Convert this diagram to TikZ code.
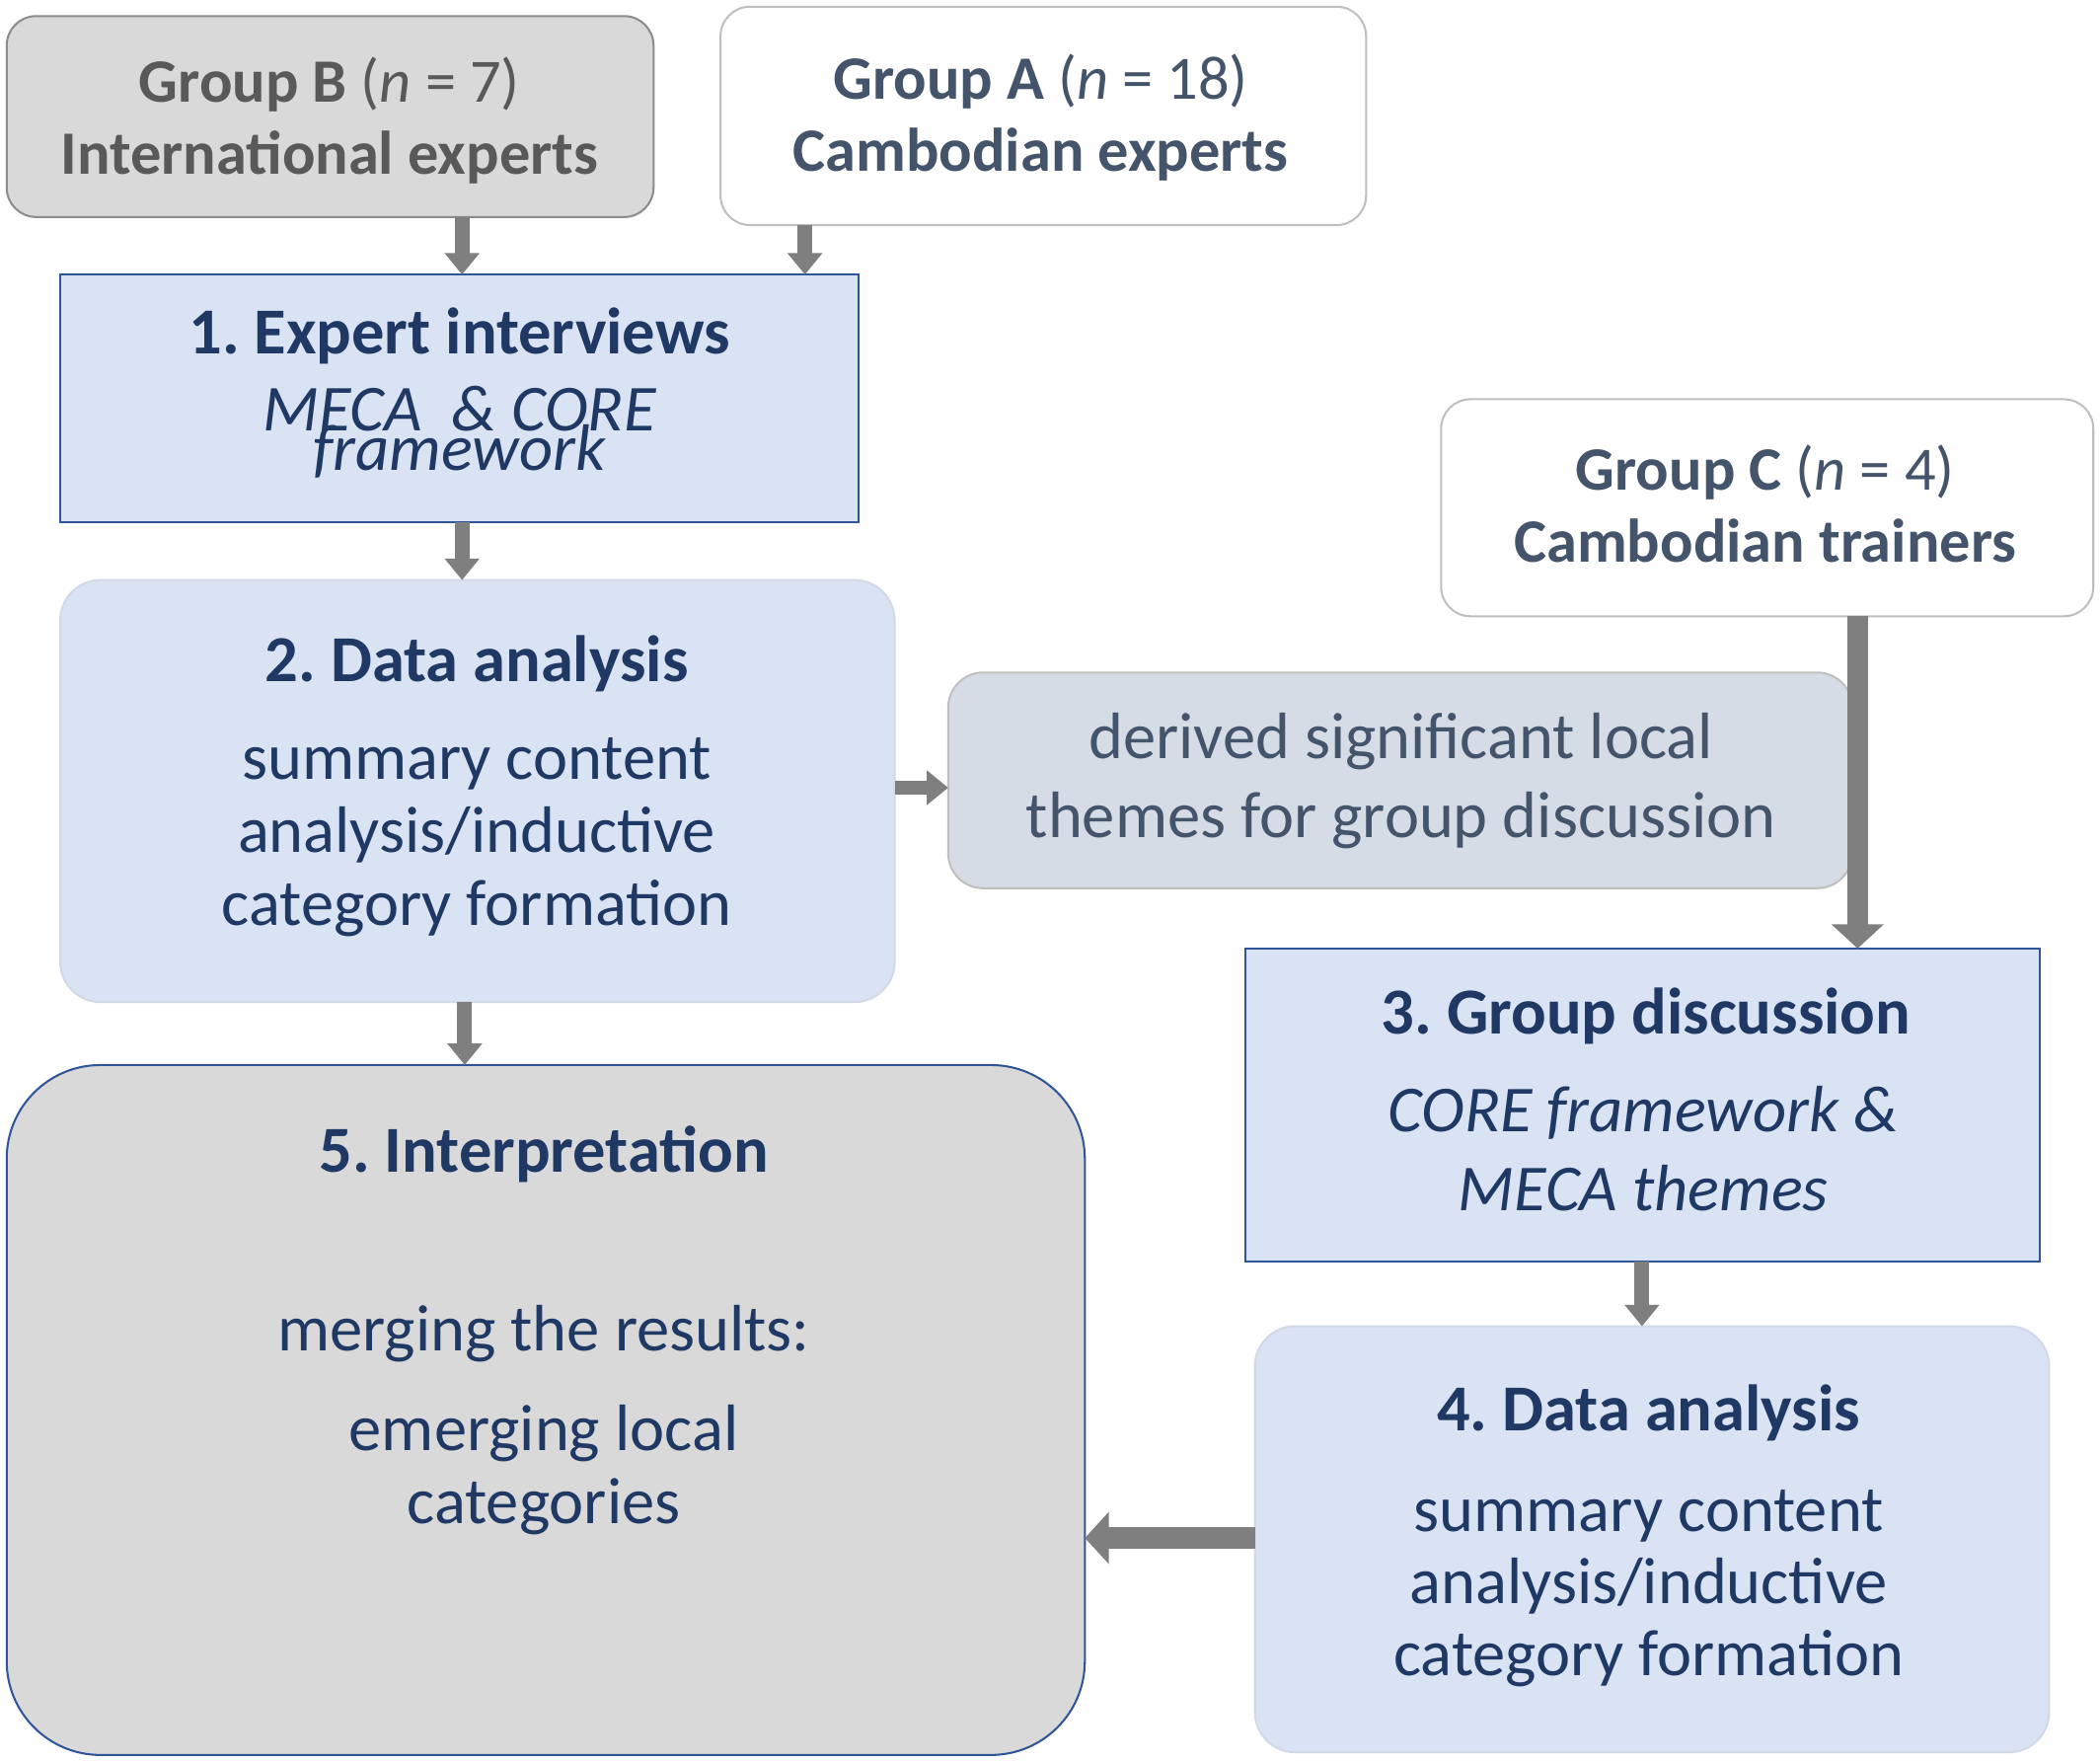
\documentclass[tikz,border=0pt]{standalone}
\usepackage{fontspec}
\setmainfont{Carlito}
\frenchspacing
\usetikzlibrary{arrows.meta,fit}
\definecolor{navy}{HTML}{1F3864}
\definecolor{slate}{HTML}{44546A}
\definecolor{greytext}{HTML}{595959}
\definecolor{bluefill}{HTML}{DAE3F3}
\definecolor{blueline}{HTML}{2F5597}
\definecolor{derfill}{HTML}{D6DCE5}
\definecolor{greyfill}{HTML}{D9D9D9}
\definecolor{lightline}{HTML}{BFBFBF}
\definecolor{midline}{HTML}{8C8C8C}
\definecolor{arrowgrey}{HTML}{7F7F7F}
\begin{document}
\frenchspacing
\begin{tikzpicture}[x=0.5pt,y=-0.5pt,
  boxbase/.style={inner sep=0pt, outer sep=0pt, line width=0.75pt},
  grpgrey/.style={boxbase, draw=midline, fill=greyfill, rounded corners=11pt},
  grpwhite/.style={boxbase, draw=lightline, fill=white, rounded corners=11pt},
  bluerect/.style={boxbase, draw=blueline, fill=bluefill},
  blueround/.style={boxbase, draw=bluefill!90!gray, fill=bluefill, rounded corners=15pt},
  derbox/.style={boxbase, draw=lightline, fill=derfill, rounded corners=13pt},
  interp/.style={boxbase, draw=blueline, fill=greyfill, rounded corners=35pt},
  arrsmall/.style={draw=arrowgrey, line width=5.5pt, -{Triangle[width=12.5pt,length=8pt]}},
  arrbig/.style={draw=arrowgrey, line width=8pt, -{Triangle[width=19pt,length=9pt]}},
  grptxt/.style={anchor=base, inner sep=0pt, font=\fontsize{23}{27}\selectfont},
  txt/.style={anchor=base, inner sep=0pt, text=navy, font=\fontsize{24.5}{27}\selectfont},
  ttl/.style={anchor=base, inner sep=0pt, text=navy, font=\bfseries\fontsize{24.5}{27}\selectfont},
  itxt/.style={anchor=base, inner sep=0pt, text=navy, font=\itshape\fontsize{24.5}{27}\selectfont},
]
\useasboundingbox (0,0) rectangle (1568,1315.2);

% boxes
\node[grpgrey, fit={(5,12) (488,162)}] (gB) {};
\node[grpwhite, fit={(538,5) (1020,168)}] (gA) {};
\node[bluerect, fit={(45,205) (641,390)}] (s1) {};
\node[blueround, fit={(45,433) (668,748)}] (s2) {};
\node[derbox, fit={(708,502) (1383,663)}] (der) {};
\node[grpwhite, fit={(1076,298) (1563,460)}] (gC) {};
\node[bluerect, fit={(930,708) (1523,942)}] (s3) {};
\node[blueround, fit={(937,990) (1530,1308)}] (s4) {};
\node[interp, fit={(5,795) (810,1310)}] (s5) {};

% texts
\node[grptxt, text=greytext] (tB1) at (246,76) {\textbf{Group B} (\textit{n} = 7)};
\node[grptxt, text=greytext] (tB2) at (246,130) {\textbf{International experts}};
\node[grptxt, text=slate] (tA1) at (777,74) {\textbf{Group A} (\textit{n} = 18)};
\node[grptxt, text=slate] (tA2) at (777,128) {\textbf{Cambodian experts}};
\node[grptxt, text=slate] (tC1) at (1318,366) {\textbf{Group C} (\textit{n} = 4)};
\node[grptxt, text=slate] (tC2) at (1318,420) {\textbf{Cambodian trainers}};

\node[ttl] (t11) at (343,264) {1. Expert interviews};
\node[itxt] (t12) at (343,322) {MECA~ \& CORE};
\node[itxt] (t13) at (343,351) {framework};

\node[ttl] (t21) at (356,509) {2. Data analysis};
\node[txt] (t22) at (356,582) {summary content};
\node[txt] (t23) at (356,636) {analysis/inductive};
\node[txt] (t24) at (356,691) {category formation};

\node[txt, text=slate] (td1) at (1046,566) {derived significant local};
\node[txt, text=slate] (td2) at (1046,625) {themes for group discussion};

\node[ttl] (t31) at (1229,772) {3. Group discussion};
\node[itxt] (t32) at (1227,845) {CORE framework \&};
\node[itxt] (t33) at (1227,904) {MECA themes};

\node[ttl] (t41) at (1231,1068) {4. Data analysis};
\node[txt] (t42) at (1231,1143) {summary content};
\node[txt] (t43) at (1231,1197) {analysis/inductive};
\node[txt] (t44) at (1231,1251) {category formation};

\node[ttl] (t51) at (406,875) {5. Interpretation};
\node[txt] (t52) at (406,1008) {merging the results:};
\node[txt] (t53) at (406,1083) {emerging local};
\node[txt] (t54) at (406,1137) {categories};

% arrows
\coordinate (xB) at (345,0);
\coordinate (xA) at (601,0);
\coordinate (x12) at (345,0);
\coordinate (y2d) at (0,588);
\coordinate (xC) at (1387,0);
\coordinate (x34) at (1226,0);
\coordinate (y45) at (0,1148);
\coordinate (x25) at (347,0);
\draw[arrsmall] (gB.south -| xB) -- (s1.north -| xB);
\draw[arrsmall] (gA.south -| xA) -- (s1.north -| xA);
\draw[arrsmall] (s1.south -| x12) -- (s2.north -| x12);
\draw[arrsmall] (s2.east |- y2d) -- (der.west |- y2d);
\draw[arrbig] (gC.south -| xC) -- (s3.north -| xC);
\draw[arrsmall] (s3.south -| x34) -- (s4.north -| x34);
\draw[arrbig] (s4.west |- y45) -- (s5.east |- y45);
\draw[arrsmall] (s2.south -| x25) -- (s5.north -| x25);
\end{tikzpicture}
\end{document}
